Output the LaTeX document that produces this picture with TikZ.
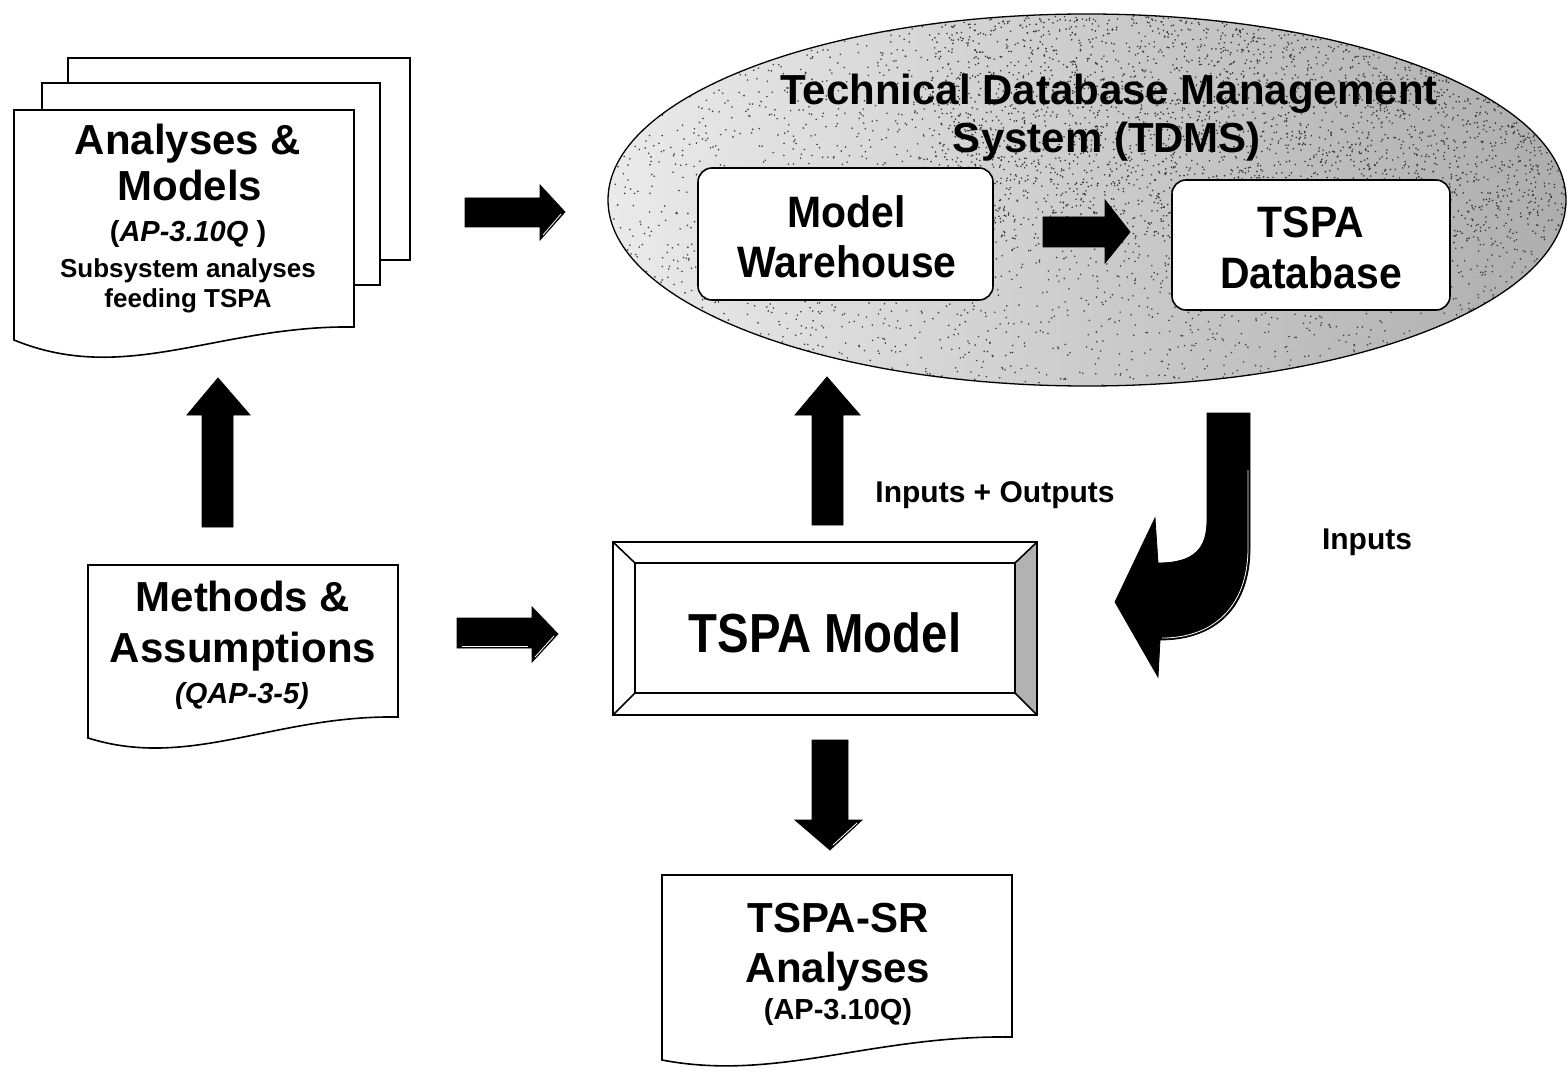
\documentclass[tikz,border=0pt]{standalone}
\usepackage{fontspec}
\setmainfont{Liberation Sans}
\newfontfamily\condfont[FakeStretch=0.86]{Liberation Sans}
\newfontfamily\semicond[FakeStretch=0.93]{Liberation Sans}
\begin{document}
\begin{tikzpicture}[x=1pt,y=-1pt,line join=miter]
\useasboundingbox (0,0) rectangle (1568,1075);
\tikzset{
  outl/.style={draw=black,line width=1.6pt},
  blk/.style={fill=black,draw=black,line width=0.8pt},
  hl/.style={draw=white,line width=0.8pt},
  txt/.style={anchor=base,inner sep=0pt},
  big/.style={txt,font=\fontsize{42}{50}\selectfont\bfseries},
  mid/.style={txt,font=\fontsize{29}{34}\selectfont\bfseries},
  sml/.style={txt,font=\fontsize{26}{32}\selectfont\bfseries},
  lbl/.style={txt,font=\fontsize{30}{36}\selectfont\bfseries},
  dbx/.style={txt,font=\fontsize{44}{50}\selectfont\semicond\bfseries},
}

% ---------- TDMS ellipse ----------
\begin{scope}
  \clip (1087,200) ellipse [x radius=479, y radius=186];
  \shade[left color=black!8, right color=black!32] (600,0) rectangle (1568,400);
  \pgfmathsetseed{7}
  \foreach \i in {1,...,3500} {\fill[black!75] ({1087+479*rand},{200+186*rand}) circle (0.9);}
  \foreach \i in {1,...,2500} {\fill[black!80] ({1250+320*rand},{120+120*rand}) circle (0.9);}
\end{scope}
\draw[line width=1.3pt] (1087,200) ellipse [x radius=479, y radius=186];
\node[big] (tdms1) at (1109,105) {Technical Database Management};
\node[big] (tdms2) at (1107,153) {System (TDMS)};

\draw[outl,fill=white,rounded corners=14pt] (698,168) rectangle (993,300);
\node[dbx] (mw1) at (847,228) {Model};
\node[dbx] (mw2) at (847,278) {Warehouse};

\draw[outl,fill=white,rounded corners=14pt] (1172,180) rectangle (1450,310);
\node[dbx] (db1) at (1311,238) {TSPA};
\node[dbx] (db2) at (1311,288) {Database};

% arrow inside ellipse
\path[blk] (1043,217) -- (1105,217) -- (1105,200) -- (1130,232) -- (1105,263) -- (1105,247) -- (1043,247) -- cycle;

% ---------- Analyses & Models stack ----------
\draw[outl,fill=white] (68,58) rectangle (410,260);
\draw[outl,fill=white] (42,83) rectangle (380,285);
\draw[outl,fill=white] (14,110) -- (354,110) -- (354,327)
  .. controls (218,325) and (126,386) .. (14,340) -- cycle;
\node[big] (am1) at (188,155) {Analyses \&};
\node[big] (am2) at (190,201) {Models};
\node[mid] (am3) at (188,242) {(\textit{AP-3.10Q} )};
\node[sml] (am4) at (188,277) {Subsystem analyses};
\node[sml] (am5) at (188,307) {feeding TSPA};

% ---------- Methods & Assumptions ----------
\draw[outl,fill=white] (88,565) -- (398,565) -- (398,717)
  .. controls (274,715) and (190,770) .. (88,738) -- cycle;
\node[big] (ma1) at (243,611) {Methods \&};
\node[big] (ma2) at (243,662) {Assumptions};
\node[mid] (ma3) at (242,703) {\textit{(QAP-3-5)}};

% ---------- TSPA Model bevel box ----------
\draw[outl,fill=white] (613,542) rectangle (1037,715);
\fill[black!30] (1015,563) -- (1037,542) -- (1037,715) -- (1015,693) -- cycle;
\draw[outl] (635,563) rectangle (1015,693);
\draw[outl] (613,542) -- (635,563) (1037,542) -- (1015,563)
  (613,715) -- (635,693) (1037,715) -- (1015,693);
\draw[outl] (613,542) rectangle (1037,715);
\node[txt,font=\fontsize{55}{60}\selectfont\condfont\bfseries] (tm) at (825,652) {TSPA Model};

% ---------- TSPA-SR Analyses ----------
\draw[outl,fill=white] (662,875) -- (1012,875) -- (1012,1037)
  .. controls (872,1035) and (777,1082) .. (662,1060) -- cycle;
\node[big] (sr1) at (838,932) {TSPA-SR};
\node[big] (sr2) at (838,982) {Analyses};
\node[mid] (sr3) at (838,1019) {(AP-3.10Q)};

% ---------- block arrows ----------
% Analyses -> TDMS
\path[blk] (465,198) -- (540,198) -- (540,185) -- (565,212) -- (540,240) -- (540,227) -- (465,227) -- cycle;
\draw[hl] (543,235) -- (561,214);
% Methods -> TSPA Model
\path[blk] (457,618) -- (532,618) -- (532,607) -- (558,634) -- (532,662) -- (532,648) -- (457,648) -- cycle;
\draw[hl] (535,657) -- (554,636);
\draw[hl] (462,646) -- (528,646);
% Methods -> Analyses (up)
\path[blk] (202,527) -- (202,415) -- (187,415) -- (218,378) -- (250,415) -- (233,415) -- (233,527) -- cycle;
% TSPA Model -> TDMS (up)
\path[blk] (812,525) -- (812,415) -- (795,415) -- (827,377) -- (860,415) -- (843,415) -- (843,525) -- cycle;
% TSPA Model -> TSPA-SR (down)
\path[blk] (812,740) -- (848,740) -- (848,820) -- (862,820) -- (830,850) -- (795,820) -- (812,820) -- cycle;
\draw[hl] (833,845) -- (857,823);
% TDMS -> TSPA Model (curved)
\path[blk] (1207,413) -- (1250,413) -- (1250,548)
  .. controls (1250,608) and (1215,640) .. (1160,640)
  -- (1158,677) -- (1115,602) -- (1155,518) -- (1158,563)
  .. controls (1195,563) and (1207,548) .. (1207,520) -- cycle;
\draw[hl] (1248,470) -- (1248,548) .. controls (1248,606) and (1214,638) .. (1162,638);

% ---------- labels ----------
\node[lbl] (io) at (995,502) {Inputs + Outputs};
\node[lbl] (in) at (1367,549) {Inputs};
\end{tikzpicture}
\end{document}
